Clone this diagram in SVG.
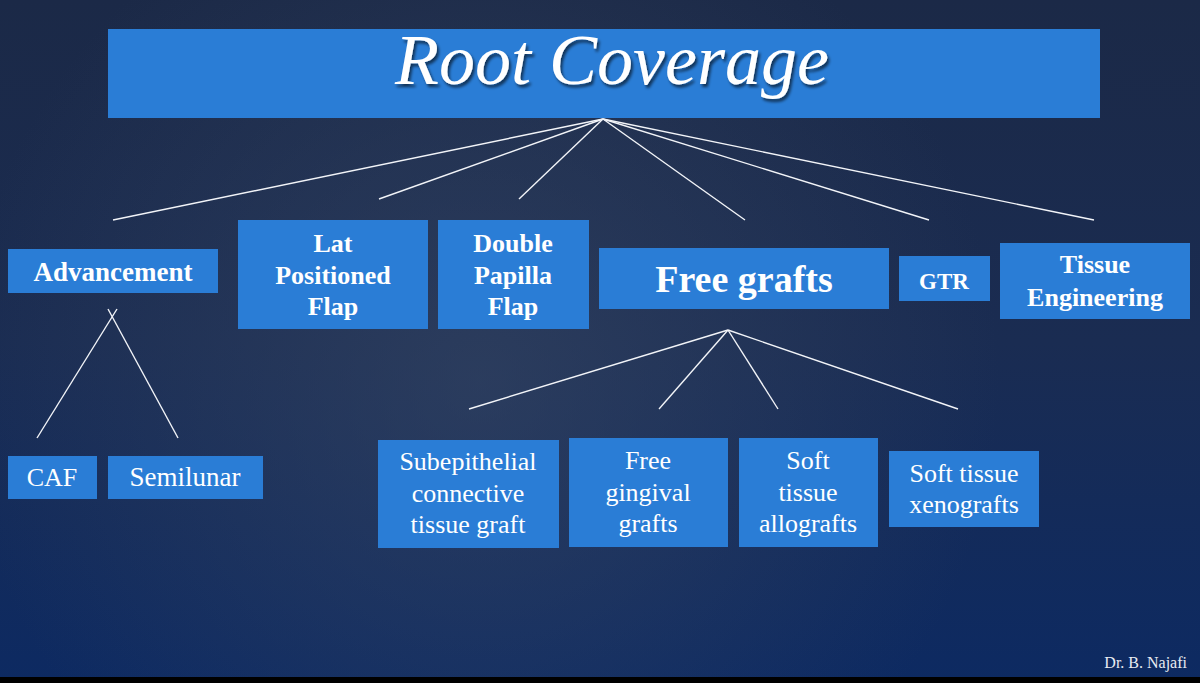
<svg xmlns="http://www.w3.org/2000/svg" width="1200" height="683" viewBox="0 0 1200 683">
  <defs>
    <linearGradient id="bg" x1="0" y1="0" x2="0" y2="1">
      <stop offset="0" stop-color="#1b2947"/>
      <stop offset="0.5" stop-color="#1a2c52"/>
      <stop offset="1" stop-color="#0d2a62"/>
    </linearGradient>
    <radialGradient id="glow" cx="480" cy="380" r="520" gradientUnits="userSpaceOnUse">
      <stop offset="0" stop-color="#3a4a66" stop-opacity="0.55"/>
      <stop offset="1" stop-color="#3a4a66" stop-opacity="0"/>
    </radialGradient>
    <filter id="shadow" x="-10%" y="-20%" width="120%" height="150%">
      <feDropShadow dx="2" dy="3" stdDeviation="1.5" flood-color="#000" flood-opacity="0.6"/>
    </filter>
    <style>
      .box { fill: #2a7dd6; }
      .lbl { font-family: "Liberation Serif", "Times New Roman", serif; fill: #ffffff; text-anchor: middle; }
      .b { font-weight: bold; }
      .conn line { stroke: #f2f4f8; stroke-width: 1.4; }
      .title { font-family: "Liberation Serif", "Times New Roman", serif; font-style: italic; fill: #ffffff; text-anchor: middle; }
    </style>
  </defs>

  <rect x="0" y="0" width="1200" height="683" fill="url(#bg)"/>
  <rect x="0" y="0" width="1200" height="683" fill="url(#glow)"/>
  <rect x="0" y="677" width="1200" height="6" fill="#000"/>

  <g id="connectors" class="conn">
    <line x1="603" y1="119" x2="113" y2="220"/>
    <line x1="603" y1="119" x2="379" y2="199"/>
    <line x1="603" y1="119" x2="519" y2="199"/>
    <line x1="603" y1="119" x2="745" y2="220"/>
    <line x1="603" y1="119" x2="929" y2="220"/>
    <line x1="603" y1="119" x2="1094" y2="220"/>
    <line x1="117" y1="309" x2="37" y2="438"/>
    <line x1="108" y1="309" x2="178" y2="438"/>
    <line x1="728" y1="330" x2="469" y2="409"/>
    <line x1="728" y1="330" x2="659" y2="409"/>
    <line x1="728" y1="330" x2="778" y2="409"/>
    <line x1="728" y1="330" x2="958" y2="409"/>
  </g>

  <g id="root">
    <rect class="box" x="108" y="29" width="992" height="89"/>
    <text class="title" x="612" y="84" font-size="72" filter="url(#shadow)">Root Coverage</text>
  </g>

  <g id="advancement">
    <rect class="box" x="8" y="249" width="210" height="44"/>
    <text class="lbl b" x="113" y="281" font-size="27">Advancement</text>
  </g>

  <g id="lat-positioned-flap">
    <rect class="box" x="238" y="220" width="190" height="109"/>
    <text class="lbl b" x="333" y="252" font-size="26">Lat</text>
    <text class="lbl b" x="333" y="284" font-size="26">Positioned</text>
    <text class="lbl b" x="333" y="315" font-size="26">Flap</text>
  </g>

  <g id="double-papilla-flap">
    <rect class="box" x="438" y="220" width="151" height="109"/>
    <text class="lbl b" x="513" y="252" font-size="26">Double</text>
    <text class="lbl b" x="513" y="284" font-size="26">Papilla</text>
    <text class="lbl b" x="513" y="315" font-size="26">Flap</text>
  </g>

  <g id="free-grafts">
    <rect class="box" x="599" y="248" width="290" height="61"/>
    <text class="lbl b" x="744" y="292" font-size="38">Free grafts</text>
  </g>

  <g id="gtr">
    <rect class="box" x="899" y="256" width="91" height="45"/>
    <text class="lbl b" x="944" y="289" font-size="23">GTR</text>
  </g>

  <g id="tissue-engineering">
    <rect class="box" x="1000" y="243" width="190" height="76"/>
    <text class="lbl b" x="1095" y="273" font-size="26">Tissue</text>
    <text class="lbl b" x="1095" y="306" font-size="26">Engineering</text>
  </g>

  <g id="caf">
    <rect class="box" x="8" y="456" width="89" height="43"/>
    <text class="lbl" x="52" y="486" font-size="26">CAF</text>
  </g>

  <g id="semilunar">
    <rect class="box" x="108" y="456" width="155" height="43"/>
    <text class="lbl" x="185" y="486" font-size="27">Semilunar</text>
  </g>

  <g id="subepithelial">
    <rect class="box" x="378" y="440" width="181" height="108"/>
    <text class="lbl" x="468" y="470" font-size="26">Subepithelial</text>
    <text class="lbl" x="468" y="502" font-size="26">connective</text>
    <text class="lbl" x="468" y="533" font-size="26">tissue graft</text>
  </g>

  <g id="free-gingival-grafts">
    <rect class="box" x="569" y="438" width="159" height="109"/>
    <text class="lbl" x="648" y="469" font-size="26">Free</text>
    <text class="lbl" x="648" y="501" font-size="26">gingival</text>
    <text class="lbl" x="648" y="532" font-size="26">grafts</text>
  </g>

  <g id="soft-tissue-allografts">
    <rect class="box" x="739" y="438" width="139" height="109"/>
    <text class="lbl" x="808" y="469" font-size="26">Soft</text>
    <text class="lbl" x="808" y="501" font-size="26">tissue</text>
    <text class="lbl" x="808" y="532" font-size="26">allografts</text>
  </g>

  <g id="soft-tissue-xenografts">
    <rect class="box" x="889" y="451" width="150" height="76"/>
    <text class="lbl" x="964" y="482" font-size="26">Soft tissue</text>
    <text class="lbl" x="964" y="513" font-size="26">xenografts</text>
  </g>

  <text x="1187" y="668" font-family="Liberation Serif, Times New Roman, serif" font-size="16" fill="#e8ecf2" text-anchor="end">Dr. B. Najafi</text>
</svg>
